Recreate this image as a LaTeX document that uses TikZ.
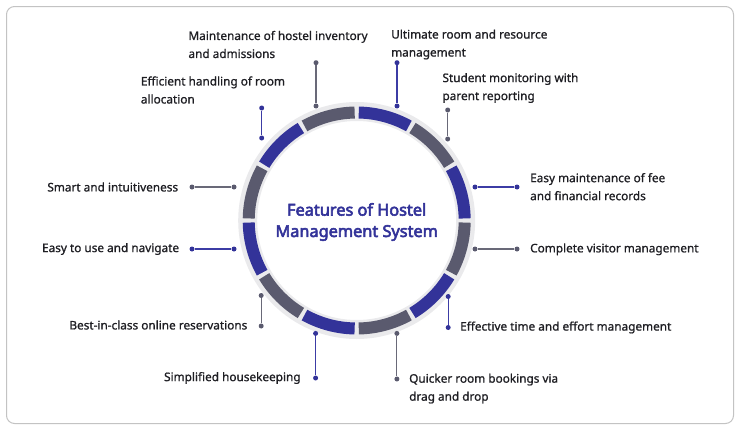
\documentclass[tikz,border=0pt]{standalone}
\usepackage{fontspec}
\usetikzlibrary{calc}
\setmainfont{Noto Sans}
\newfontfamily\lblfont{Noto Sans}[FakeBold=1.0]
\newfontfamily\titlefont{Noto Sans}[FakeBold=3.4]
\definecolor{ringblue}{RGB}{51,51,153}
\definecolor{ringgray}{RGB}{90,90,110}
\definecolor{linegray}{RGB}{105,105,120}
\definecolor{lineblue}{RGB}{60,60,165}
\definecolor{txt}{RGB}{30,30,35}
\definecolor{framegray}{RGB}{195,195,195}
\definecolor{halo}{RGB}{234,234,236}
\tikzset{
  lbl/.style={inner sep=0pt, align=left, text=txt, font=\lblfont\fontsize{11.8}{18}\selectfont},
  dotb/.style={circle, fill=ringblue, inner sep=0pt, minimum size=5pt},
  dotg/.style={circle, fill=ringgray, inner sep=0pt, minimum size=5pt},
  conb/.style={draw=lineblue, line width=1.1pt},
  cong/.style={draw=linegray, line width=1.1pt},
  seg/.style={line width=12pt, line cap=butt},
}
\begin{document}
\begin{tikzpicture}[x=1pt,y=-1pt]
\useasboundingbox (0,0) rectangle (740,431);
\draw[framegray, line width=1pt, rounded corners=8pt] (6.5,6.5) rectangle (733.5,423.5);
% ring
\coordinate (C) at (356.7,220.5);
\draw[halo, line width=19pt] (C) circle[radius=109pt];
\foreach \k in {0,...,11}{
  \pgfmathsetmacro{\aone}{90-30*\k-1.1}
  \pgfmathsetmacro{\atwo}{60-30*\k+1.1}
  \pgfmathtruncatemacro{\segpar}{mod(\k,2)}
  \ifnum\segpar=0 \def\segcol{ringblue}\else\def\segcol{ringgray}\fi
  \draw[seg, draw=\segcol] ($(C)+(\aone:108pt)$) arc[start angle=\aone, end angle=\atwo, radius=108pt];
}
\node[align=center, text=ringblue, font=\titlefont\fontsize{16.3}{21.3}\selectfont] (title) at (356.7,222) {Features of Hostel\\Management System};
% 1 Maintenance
\node[lbl, anchor=west] (l1) at (188.3,44.5) {Maintenance of hostel inventory\\and admissions};
\node[dotg] (a1) at (316,62.7) {};
\node[dotg] (b1) at (316,106) {};
\draw[cong] (a1) -- (b1);
% 2 Ultimate
\node[lbl, anchor=west] (l2) at (391,44.5) {Ultimate room and resource\\management};
\node[dotb] (a2) at (397,62.7) {};
\node[dotb] (b2) at (397,106) {};
\draw[conb] (a2) -- (b2);
% 3 Efficient
\node[lbl, anchor=west] (l3) at (140.7,90) {Efficient handling of room\\allocation};
\node[dotb] (a3) at (261.7,108) {};
\node[dotb] (b3) at (261.7,138) {};
\draw[conb] (a3) -- (b3);
% 4 Student
\node[lbl, anchor=west] (l4) at (442.3,88) {Student monitoring with\\parent reporting};
\node[dotg] (a4) at (447.7,110) {};
\node[dotg] (b4) at (447.7,139) {};
\draw[cong] (a4) -- (b4);
% 5 Smart
\node[lbl, anchor=east] (l5) at (178.3,187) {Smart and intuitiveness};
\node[dotg] (a5) at (192,187) {};
\node[dotg] (b5) at (234,187) {};
\draw[cong] (a5) -- (b5);
% 6 Easy maintenance
\node[lbl, anchor=west] (l6) at (530,186.7) {Easy maintenance of fee\\and financial records};
\node[dotb] (a6) at (517,187) {};
\node[dotb] (b6) at (475,187) {};
\draw[conb] (a6) -- (b6);
% 7 Easy to use
\node[lbl, anchor=east] (l7) at (179.3,249) {Easy to use and navigate};
\node[dotb] (a7) at (192,249) {};
\node[dotb] (b7) at (234,249) {};
\draw[conb] (a7) -- (b7);
% 8 Complete visitor
\node[lbl, anchor=west] (l8) at (530,249.3) {Complete visitor management};
\node[dotg] (a8) at (517,249) {};
\node[dotg] (b8) at (475,249) {};
\draw[cong] (a8) -- (b8);
% 9 Best-in-class
\node[lbl, anchor=east] (l9) at (247.5,325) {Best-in-class online reservations};
\node[dotg] (a9) at (261.2,326) {};
\node[dotg] (b9) at (261.2,295.5) {};
\draw[cong] (a9) -- (b9);
% 10 Effective
\node[lbl, anchor=west] (l10) at (460,327.5) {Effective time and effort management};
\node[dotb] (a10) at (448.2,327.5) {};
\node[dotb] (b10) at (448.2,296.5) {};
\draw[conb] (a10) -- (b10);
% 11 Simplified
\node[lbl, anchor=east] (l11) at (300.8,378) {Simplified housekeeping};
\node[dotb] (a11) at (315.6,378) {};
\node[dotb] (b11) at (315.6,333.4) {};
\draw[conb] (a11) -- (b11);
% 12 Quicker
\node[lbl, anchor=west] (l12) at (409,388.6) {Quicker room bookings via\\drag and drop};
\node[dotg] (a12) at (396.9,379) {};
\node[dotg] (b12) at (396.9,333.4) {};
\draw[cong] (a12) -- (b12);
\end{tikzpicture}
\end{document}
